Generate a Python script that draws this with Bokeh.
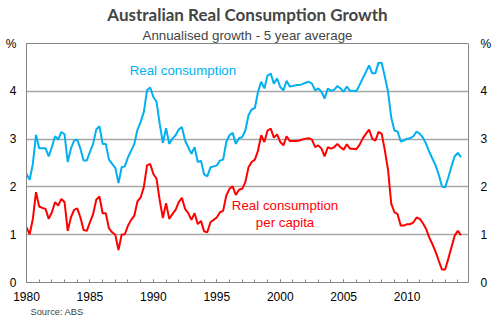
from bokeh.plotting import figure
from bokeh.models import Range1d, FixedTicker, LinearAxis, Label, Title
from bokeh.embed import file_html
from bokeh.resources import INLINE

# ---- data (quarterly, starting 1980 Q1) ----
start_year = 1980
real_consumption = [
    2.27, 2.15, 2.48, 3.09,
    2.81, 2.81, 2.81, 2.64,
    2.83, 3.06, 2.99, 3.15,
    3.10, 2.52, 2.80, 2.97,
    2.99, 2.80, 2.55, 2.55,
    2.73, 2.90, 3.20, 3.27,
    2.90, 2.90, 2.57, 2.48,
    2.40, 2.08, 2.41, 2.43,
    2.62, 2.76, 2.90, 3.20,
    3.36, 3.57, 4.02, 4.08,
    3.88, 3.78, 3.32, 2.92,
    3.23, 2.90, 3.01, 3.08,
    3.20, 3.25, 2.97, 2.83,
    2.69, 2.83, 2.52, 2.55,
    2.26, 2.22, 2.41, 2.43,
    2.45, 2.55, 2.57, 2.94,
    3.08, 3.13, 2.90, 3.02,
    3.04, 3.18, 3.50, 3.62,
    3.65, 3.99, 4.20, 4.06,
    4.33, 4.37, 4.16, 4.27,
    4.09, 4.02, 4.22, 4.10,
    4.11, 4.13, 4.13, 4.15,
    4.18, 4.20, 4.16, 4.02,
    4.06, 3.99, 3.85, 4.06,
    4.01, 4.03, 4.11, 4.06,
    3.99, 4.10, 4.01, 4.01,
    4.00, 4.13, 4.27, 4.40,
    4.54, 4.38, 4.38, 4.60,
    4.59, 4.30, 3.99, 3.45,
    3.18, 3.16, 2.95, 2.97,
    3.01, 3.02, 3.06, 3.16,
    3.11, 3.03, 2.90, 2.73,
    2.59, 2.45, 2.25, 2.01,
    1.99, 2.20, 2.43, 2.64,
    2.71, 2.62,
]
real_consumption_per_capita = [
    1.15, 1.01, 1.33, 1.89,
    1.59, 1.56, 1.54, 1.33,
    1.47, 1.68, 1.61, 1.75,
    1.68, 1.08, 1.36, 1.52,
    1.55, 1.36, 1.10, 1.08,
    1.26, 1.43, 1.73, 1.80,
    1.45, 1.45, 1.13, 1.05,
    1.00, 0.68, 1.00, 1.01,
    1.19, 1.31, 1.40, 1.70,
    1.78, 2.00, 2.45, 2.48,
    2.27, 2.17, 1.72, 1.35,
    1.66, 1.33, 1.43, 1.52,
    1.68, 1.77, 1.54, 1.45,
    1.31, 1.45, 1.22, 1.29,
    1.07, 1.05, 1.26, 1.31,
    1.36, 1.47, 1.50, 1.82,
    1.96, 2.01, 1.83, 1.94,
    1.96, 2.10, 2.41, 2.52,
    2.57, 2.76, 3.08, 2.94,
    3.18, 3.22, 3.03, 3.10,
    2.94, 2.87, 3.06, 2.96,
    2.96, 2.96, 2.97, 2.99,
    3.01, 3.02, 2.99, 2.83,
    2.87, 2.80, 2.64, 2.83,
    2.80, 2.83, 2.90, 2.83,
    2.78, 2.89, 2.80, 2.80,
    2.79, 2.88, 3.01, 3.11,
    3.20, 3.01, 2.97, 3.15,
    3.11, 2.76, 2.35, 1.65,
    1.47, 1.43, 1.19, 1.19,
    1.22, 1.22, 1.26, 1.36,
    1.33, 1.24, 1.12, 0.94,
    0.80, 0.64, 0.45, 0.27,
    0.27, 0.50, 0.74, 0.98,
    1.08, 0.99,
]
x_tick_labels = [1980, 1985, 1990, 1995, 2000, 2005, 2010]
y_ticks = [0, 1, 2, 3, 4]
unit_tick = 4.98   # where the "%" unit label sits on each value axis

quarters = [start_year + 0.25 * i for i in range(len(real_consumption))]

BLUE = "#00B0F0"
RED = "#FF0000"
GRID = "#A6A6A6"
AXIS = "#868686"
FONT = "Liberation Sans"

p = figure(width=497, height=323, output_backend="svg", toolbar_location=None,
           x_range=Range1d(1980, 2014.84), y_range=Range1d(0, 5),
           min_border_left=26, min_border_right=29, min_border_top=43,
           min_border_bottom=41)
p.background_fill_color = "white"
p.border_fill_color = "white"
p.outline_line_color = AXIS
p.outline_line_width = 1

p.xgrid.visible = False
p.ygrid.ticker = FixedTicker(ticks=[1, 2, 3, 4])
p.ygrid.grid_line_color = GRID
p.ygrid.grid_line_width = 1.3

# bottom axis
xa = p.xaxis[0]
xa.ticker = FixedTicker(ticks=x_tick_labels, minor_ticks=list(range(1980, 2015)))
xa.axis_line_color = AXIS
xa.major_tick_line_color = AXIS
xa.minor_tick_line_color = AXIS
xa.major_tick_in = 3
xa.major_tick_out = 0
xa.minor_tick_in = 3
xa.minor_tick_out = 0
xa.major_label_standoff = 9
xa.major_label_text_font = FONT
xa.major_label_text_font_size = "12px"
xa.major_label_text_color = "black"

overrides = {unit_tick: "%"}

# left axis
ya = p.yaxis[0]
ya.ticker = FixedTicker(ticks=y_ticks + [unit_tick])
ya.major_label_overrides = overrides
ya.axis_line_color = AXIS
ya.major_tick_line_color = None
ya.minor_tick_line_color = None
ya.major_tick_in = 0
ya.major_tick_out = 0
ya.major_label_standoff = 10
ya.major_label_text_font = FONT
ya.major_label_text_font_size = "12px"
ya.major_label_text_color = "black"

# right axis
ra = LinearAxis(ticker=FixedTicker(ticks=y_ticks + [unit_tick]))
ra.major_label_overrides = overrides
ra.axis_line_color = None
ra.major_tick_line_color = None
ra.minor_tick_line_color = None
ra.major_tick_in = 0
ra.major_tick_out = 0
ra.major_label_standoff = 12
ra.major_label_text_font = FONT
ra.major_label_text_font_size = "12px"
ra.major_label_text_color = "black"
p.add_layout(ra, "right")

p.line(quarters, real_consumption, line_color=BLUE, line_width=2)
p.line(quarters, real_consumption_per_capita, line_color=RED, line_width=2)

# titles (first added sits nearest the frame)
p.add_layout(Title(text="Annualised growth - 5 year average", align="center",
                   text_font=FONT, text_font_size="13.3px",
                   text_font_style="normal", standoff=2), "above")
p.add_layout(Title(text="Australian Real Consumption Growth", align="center",
                   text_font="Lato", text_font_size="17px",
                   text_font_style="bold", standoff=0), "above")
p.add_layout(Title(text="Source: ABS", align="left", offset=4,
                   text_font=FONT, text_font_size="9.3px",
                   text_font_style="normal", standoff=2), "below")

def lab(x, y, text, size, color="black"):
    p.add_layout(Label(x=x, y=y, text=text, text_font=FONT, text_font_size=size,
                       text_color=color, text_align="center",
                       text_baseline="middle"))

lab(1992.33, 4.44, "Real consumption", "13.3px", color=BLUE)
lab(2000.38, 1.61, "Real consumption", "13.3px", color=RED)
lab(2000.38, 1.26, "per capita", "13.3px", color=RED)

open("out.html", "w").write(file_html(p, INLINE))
